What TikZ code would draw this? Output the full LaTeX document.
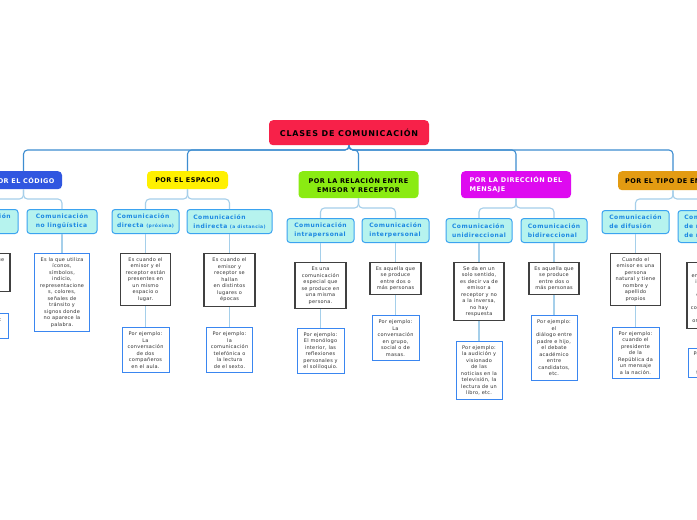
\documentclass[tikz,border=0pt]{standalone}
\usepackage{fontspec}
\setmainfont{DejaVu Sans}
\newfontfamily\rootfam[LetterSpace=10]{DejaVu Sans}
\newfontfamily\catfam[LetterSpace=7]{DejaVu Sans}
\newfontfamily\subfam[LetterSpace=8]{DejaVu Sans}
\newfontfamily\descfam[LetterSpace=5]{DejaVu Sans}
\definecolor{rootred}{RGB}{247,33,73}
\definecolor{codeblue}{RGB}{48,86,224}
\definecolor{spaceyel}{RGB}{255,240,0}
\definecolor{relgreen}{RGB}{138,235,18}
\definecolor{dirmag}{RGB}{222,10,240}
\definecolor{tipoor}{RGB}{227,155,18}
\definecolor{subfill}{RGB}{182,243,238}
\definecolor{subborder}{RGB}{59,163,240}
\definecolor{subtext}{RGB}{28,136,226}
\definecolor{exborder}{RGB}{58,134,240}
\definecolor{linkdark}{RGB}{61,141,208}
\definecolor{linklight}{RGB}{165,207,234}
\definecolor{desctext}{RGB}{50,50,50}
\tikzset{
  wh/.style 2 args={minimum width=#1pt, minimum height=#2pt},
  rootbox/.style={fill=rootred, rounded corners=4pt, anchor=north, inner sep=0pt,
    font=\rootfam\bfseries\fontsize{8}{10}\selectfont, text=black},
  catbox/.style={rounded corners=4pt, anchor=north, inner sep=0pt,
    font=\catfam\bfseries\fontsize{6.5}{9}\selectfont},
  subbox/.style={draw=subborder, fill=subfill, line width=1pt, rounded corners=3pt,
    anchor=north, inner sep=0pt, font=\subfam\bfseries\fontsize{6}{9}\selectfont,
    text=subtext, align=left},
  descbox/.style={draw=black!75, line width=1.1pt, fill=white, anchor=north, inner sep=0pt,
    font=\descfam\fontsize{5}{6.5}\selectfont, text=desctext, align=center},
  exbox/.style={draw=exborder, line width=0.9pt, fill=white, anchor=north, inner sep=0pt,
    font=\descfam\fontsize{5}{6.5}\selectfont, text=desctext, align=center},
  link/.style={draw=linkdark, line width=1.1pt, rounded corners=4pt},
  sublink/.style={draw=linklight, line width=1.1pt, rounded corners=4pt}
}
\newcommand\smallpar[1]{{\fontsize{4.5}{9}\selectfont #1}}
\begin{document}
\begin{tikzpicture}[x=1pt,y=-1pt]
\useasboundingbox (0,0) rectangle (697,520);
\fill[white] (0,0) rectangle (697,520);
\clip (0,0) rectangle (697,520);

% root
\node[rootbox, wh={160}{25}] (root) at (349,120) {CLASES DE COMUNICACIÓN};

% categories
\node[catbox, fill=codeblue, text=white, wh={77}{18}] (c1) at (23.5,171) {POR EL CÓDIGO};
\node[catbox, fill=spaceyel, text=black, wh={81}{18}] (c2) at (187.5,171) {POR EL ESPACIO};
\node[catbox, fill=relgreen, text=black, wh={120}{27}, align=center] (c3) at (358.5,171) {POR LA RELACIÓN ENTRE\\EMISOR Y RECEPTOR};
\node[catbox, fill=dirmag, text=white, wh={110}{27}, align=left] (c4) at (516,171) {POR LA DIRECCIÓN DEL\\MENSAJE\hspace*{55pt}};
\node[catbox, fill=tipoor, text=black, wh={110}{19}] (c5) at (673,171) {POR EL TIPO DE EMISOR};

% sub categories
\node[subbox, wh={67}{24}] (s1a) at (-15.5,209) {Comunicación\\lingüística};
\node[subbox, wh={70}{24}] (s1b) at (62,209) {Comunicación\\no lingüística};
\node[subbox, wh={67}{24}] (s2a) at (145.5,209) {Comunicación\\directa \smallpar{(próxima)}};
\node[subbox, wh={85}{24}] (s2b) at (229.5,209) {Comunicación\\indirecta \smallpar{(a distancia)}};
\node[subbox, wh={67}{24}] (s3a) at (320.5,218) {Comunicación\\intrapersonal};
\node[subbox, wh={67}{24}] (s3b) at (395.5,218) {Comunicación\\interpersonal};
\node[subbox, wh={66}{24}] (s4a) at (479,218) {Comunicación\\unidireccional};
\node[subbox, wh={66}{24}] (s4b) at (554,218) {Comunicación\\bidireccional};
\node[subbox, wh={67}{23}] (s5a) at (635.5,210) {Comunicación\\de difusión};
\node[subbox, wh={65}{32}] (s5b) at (710.5,210) {Comunicación\\de medios\\de masas};

% descriptions
\node[descbox, wh={51}{38}] (d1a) at (-15.5,253) {Es aquella que\\utiliza el\\lenguaje\\verbal, oral\\o escrito.};
\node[exbox, wh={47}{25}] (e1a) at (-15.5,313) {Por ejemplo:\\una carta o\\una charla.};
\node[exbox, wh={55}{78}] (d1b) at (62,253) {Es la que utiliza\\íconos,\\símbolos,\\indicio,\\representacione\\s, colores,\\señales de\\tránsito y\\signos donde\\no aparece la\\palabra.};

\node[descbox, wh={50}{52}] (d2a) at (145.5,253) {Es cuando el\\emisor y el\\receptor están\\presentes en\\un mismo\\espacio o\\lugar.};
\node[exbox, wh={47}{45}] (e2a) at (145.5,327) {Por ejemplo:\\La\\conversación\\de dos\\compañeros\\en el aula.};
\node[descbox, wh={51}{53}] (d2b) at (229.5,253) {Es cuando el\\emisor y\\receptor se\\hallan\\en distintos\\lugares o\\épocas};
\node[exbox, wh={46}{45}] (e2b) at (229.5,327) {Por ejemplo:\\la\\comunicación\\telefónica o\\la lectura\\de el sexto.};

\node[descbox, wh={51}{46}] (d3a) at (320.5,262) {Es una\\comunicación\\especial que\\se produce en\\una misma\\persona.};
\node[exbox, wh={47}{45}] (e3a) at (320.5,328) {Por ejemplo:\\El monólogo\\interior, las\\reflexiones\\personales y\\el soliloquio.};
\node[descbox, wh={51}{32}] (d3b) at (395.5,262) {Es aquella que\\se produce\\entre dos o\\más personas};
\node[exbox, wh={47}{45}] (e3b) at (395.5,315) {Por ejemplo:\\La\\conversación\\en grupo,\\social o de\\masas.};

\node[descbox, wh={50}{58}] (d4a) at (479,262) {Se da en un\\solo sentido,\\es decir va de\\emisor a\\receptor y no\\a la inversa,\\no hay\\respuesta};
\node[exbox, wh={46}{58}] (e4a) at (479,341) {Por ejemplo:\\la audición y\\visionado\\de las\\noticias en la\\televisión, la\\lectura de un\\libro, etc.};
\node[descbox, wh={50}{32}] (d4b) at (554,262) {Es aquella que\\se produce\\entre dos o\\más personas};
\node[exbox, wh={46}{65}] (e4b) at (554,315) {Por ejemplo:\\el\\diálogo entre\\padre e hijo,\\el debate\\académico\\entre\\candidatos,\\etc.};

\node[descbox, wh={50}{52}] (d5a) at (635.5,253) {Cuando el\\emisor es una\\persona\\natural y tiene\\nombre y\\apellido\\propios};
\node[exbox, wh={47}{51}] (e5a) at (635.5,327) {Por ejemplo:\\cuando el\\presidente\\de la\\República da\\un mensaje\\a la nación.};
\node[descbox, wh={47}{66}] (d5b) at (710.5,262) {Cuando el\\emisor es una\\institución,\\una\\empresa o\\medio de\\comunicación,\\una\\organización.};
\node[exbox, wh={45}{29}] (e5b) at (710.5,348) {Por ejemplo:\\La radio,\\la\\televisión.};

% connectors root -> categories
\coordinate (h0) at (0,150);
\foreach \c in {c1,c2,c3,c4,c5}
  \draw[link] (root.south) |- (\c.north |- h0) -- (\c.north);

% categories -> subcategories
\coordinate (hA) at (0,199);
\coordinate (hB) at (0,208);
\foreach \c/\s/\h in {c1/s1a/hA, c1/s1b/hA, c2/s2a/hA, c2/s2b/hA, c3/s3a/hB, c3/s3b/hB, c4/s4a/hB, c4/s4b/hB, c5/s5a/hA, c5/s5b/hA}
  \draw[sublink] (\c.south) |- (\s.north |- \h) -- (\s.north);

% subcategories -> descriptions -> examples
\foreach \a/\b in {s1a/d1a, d1a/e1a, s1b/d1b, s2a/d2a, d2a/e2a, s2b/d2b, d2b/e2b,
  s3a/d3a, d3a/e3a, s3b/d3b, d3b/e3b, s4a/d4a, d4a/e4a, s4b/d4b, d4b/e4b,
  s5a/d5a, d5a/e5a, s5b/d5b, d5b/e5b}
  \draw[sublink] (\a.south) -- (\a.south |- \b.north);
\end{tikzpicture}
\end{document}
